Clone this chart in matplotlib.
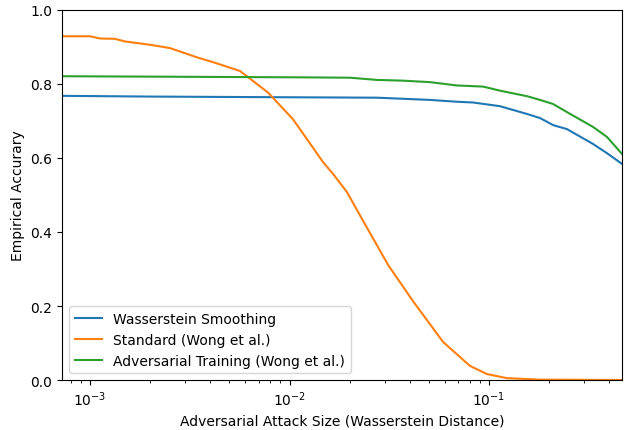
import matplotlib
matplotlib.use("Agg")
from matplotlib import pyplot as plt

# attack sizes (Wasserstein distance) and empirical accuracy
x_smooth = [0.000724, 0.0020, 0.01129, 0.02746, 0.0506, 0.0691, 0.0832, 0.1135,
            0.155, 0.180, 0.2093, 0.246, 0.332, 0.390, 0.464]
y_smooth = [0.768, 0.766, 0.764, 0.763, 0.757, 0.752, 0.750, 0.740,
            0.719, 0.708, 0.689, 0.678, 0.638, 0.613, 0.584]

x_standard = [0.000724, 0.001, 0.001122, 0.001334, 0.001497, 0.0020, 0.00252,
              0.00344, 0.00414, 0.00565, 0.0078, 0.0104, 0.01472, 0.01652, 0.0194,
              0.0231, 0.0312, 0.0416, 0.0588, 0.0803, 0.0977, 0.123, 0.180, 0.464]
y_standard = [0.929, 0.929, 0.923, 0.922, 0.915, 0.906, 0.897,
              0.872, 0.859, 0.835, 0.777, 0.705, 0.589, 0.557, 0.508,
              0.435, 0.311, 0.213, 0.103, 0.038, 0.016, 0.005, 0.001, 0.0]

x_adv = [0.000724, 0.01129, 0.0201, 0.02746, 0.0371, 0.0506, 0.0691, 0.0933,
         0.1135, 0.155, 0.180, 0.2093, 0.246, 0.332, 0.390, 0.464]
y_adv = [0.821, 0.818, 0.817, 0.811, 0.809, 0.805, 0.796, 0.793,
         0.782, 0.767, 0.757, 0.746, 0.724, 0.684, 0.657, 0.611]

fig = plt.figure(figsize=(6.24, 4.31), dpi=100)
ax = fig.add_axes([0.0994, 0.116, 0.8974, 0.8585])

ax.plot(x_smooth, y_smooth, label='Wasserstein Smoothing')
ax.plot(x_standard, y_standard, label='Standard (Wong et al.)')
ax.plot(x_adv, y_adv, label='Adversarial Training (Wong et al.)')

ax.set_xscale('log')
ax.set_xlim(0.000724, 0.464)
ax.set_ylim(0, 1.0)
ax.set_xlabel('Adversarial Attack Size (Wasserstein Distance)')
ax.set_ylabel('Empirical Accurary')
ax.legend(loc='lower left')

fig.savefig('out.png', dpi=100)
